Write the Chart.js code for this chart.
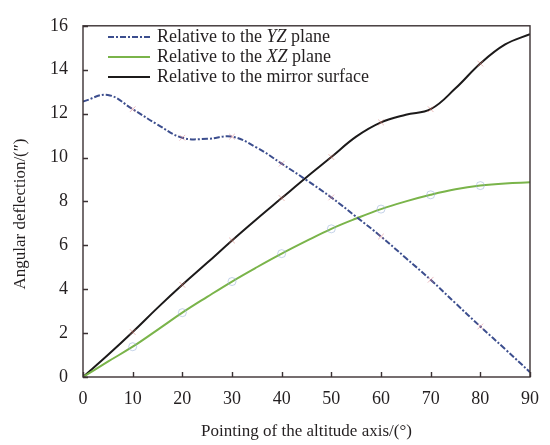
<!DOCTYPE html>
<html>
<head>
<meta charset="utf-8">
<script src="https://cdn.jsdelivr.net/npm/chart.js@4.4.1/dist/chart.umd.min.js"></script>
<style>
  html, body { margin: 0; padding: 0; background: #fff; }
  #wrap { width: 550px; height: 445px; position: relative; }
</style>
</head>
<body>
<div id="wrap"><canvas id="myChart"></canvas></div>
<script>
// values
const angles = [0, 5, 10, 15, 20, 25, 30, 35, 40, 45, 50, 55, 60, 65, 70, 75, 80, 85, 90]
const yzPlane = [12.55, 12.85, 12.2, 11.5, 10.9, 10.85, 10.95, 10.45, 9.72, 8.97, 8.18, 7.3, 6.4, 5.42, 4.43, 3.36, 2.3, 1.27, 0.22]
const xzPlane = [0, 0.7, 1.38, 2.15, 2.93, 3.65, 4.35, 5.0, 5.62, 6.2, 6.75, 7.22, 7.65, 8.0, 8.3, 8.55, 8.72, 8.82, 8.87]
const mirrorSurface = [0, 1.0, 2.05, 3.15, 4.2, 5.2, 6.22, 7.2, 8.15, 9.1, 10.02, 10.95, 11.6, 11.95, 12.2, 13.15, 14.28, 15.15, 15.62]
const xTicks = [0, 10, 20, 30, 40, 50, 60, 70, 80, 90]
const yTicks = [0, 2, 4, 6, 8, 10, 12, 14, 16]

const seriesNames = [
  [['Relative to the ', false], ['YZ', true], [' plane', false]],
  [['Relative to the ', false], ['XZ', true], [' plane', false]],
  [['Relative to the mirror surface', false]]
]

const serif = '"Liberation Serif", "Times New Roman", serif'
const ink = '#231f20'

function pts(arr) {
  return angles.map((a, i) => ({x: a, y: arr[i]}))
}

function markSize(ctx) {
  let a = angles[ctx.dataIndex]
  return (a % 10 === 0 && a > 0 && a < 90) ? 4 : 0
}

const frameTicks = {
  id: 'frameTicks',
  afterDatasetsDraw(chart) {
    let c = chart.ctx
    let area = chart.chartArea
    let xs = chart.scales.x
    let ys = chart.scales.y
    c.save()
    c.strokeStyle = '#3b3133'
    c.lineWidth = 1.4
    c.strokeRect(area.left, area.top, area.right - area.left, area.bottom - area.top)
    c.beginPath()
    xTicks.forEach(v => {
      let px = Math.round(xs.getPixelForValue(v)) + 0.5
      c.moveTo(px, area.bottom)
      c.lineTo(px, area.bottom - 5)
    })
    yTicks.forEach(v => {
      let py = Math.round(ys.getPixelForValue(v)) + 0.5
      c.moveTo(area.left, py)
      c.lineTo(area.left + 5, py)
    })
    c.stroke()
    c.restore()
  },
  afterDraw(chart) {
    let c = chart.ctx
    let area = chart.chartArea
    c.save()
    c.fillStyle = ink
    c.font = '17px ' + serif
    c.textAlign = 'center'
    c.textBaseline = 'middle'
    c.fillText('Pointing of the altitude axis/(°)', (area.left + area.right) / 2, 432)
    c.translate(21, 214)
    c.rotate(-Math.PI / 2)
    c.fillText('Angular deflection/(″)', 0, 0)
    c.restore()

    // legend, drawn by hand for the italic plane names
    let ds = chart.data.datasets
    c.save()
    c.textBaseline = 'middle'
    c.textAlign = 'left'
    for (let i = 0; i < 3; i++) {
      let y = 37 + i * 20
      c.beginPath()
      c.strokeStyle = ds[i].borderColor
      c.lineWidth = ds[i].borderWidth
      c.setLineDash(ds[i].borderDash || [])
      c.moveTo(108, y)
      c.lineTo(150, y)
      c.stroke()
      c.setLineDash([])
      let x = 157
      c.fillStyle = ink
      seriesNames[i].forEach(part => {
        c.font = (part[1] ? 'italic ' : '') + '18px ' + serif
        c.fillText(part[0], x, y)
        x += c.measureText(part[0]).width
      })
    }
    c.restore()
  }
}

let ctx = document.querySelector('#myChart').getContext('2d')
let myChart = new Chart(ctx, {
  type: 'line',
  data: {
    datasets: [{
      label: 'YZ',
      data: pts(yzPlane),
      borderColor: '#3c4e8e',
      borderWidth: 2,
      borderDash: [6, 2, 2, 2],
      pointStyle: 'crossRot',
      pointRadius: markSize,
      pointBorderColor: 'rgba(215,120,130,0.5)',
      pointBorderWidth: 1,
      tension: 0.4
    }, {
      label: 'XZ',
      data: pts(xzPlane),
      borderColor: '#7ab44a',
      borderWidth: 2,
      pointStyle: 'circle',
      pointRadius: markSize,
      pointBackgroundColor: 'rgba(0,0,0,0)',
      pointBorderColor: 'rgba(150,175,215,0.55)',
      pointBorderWidth: 1,
      tension: 0.4
    }, {
      label: 'Mirror',
      data: pts(mirrorSurface),
      borderColor: '#1c1a1a',
      borderWidth: 2,
      pointStyle: 'crossRot',
      pointRadius: markSize,
      pointBorderColor: 'rgba(215,120,110,0.5)',
      pointBorderWidth: 1,
      tension: 0.4
    }]
  },
  options: {
    responsive: true,
    maintainAspectRatio: false,
    animation: false,
    layout: { padding: { top: 20, right: 13, left: 0, bottom: 0 } },
    plugins: { legend: { display: false }, tooltip: { enabled: false } },
    scales: {
      x: {
        type: 'linear', min: 0, max: 90,
        afterFit(scale) { scale.height = 68 },
        afterBuildTicks(scale) { scale.ticks = xTicks.map(v => ({value: v})) },
        grid: { display: false, drawTicks: false },
        border: { display: false },
        ticks: { padding: 11, color: ink, font: { family: serif, size: 18 }, maxRotation: 0 }
      },
      y: {
        min: 0, max: 16,
        afterFit(scale) { scale.width = 83 },
        afterBuildTicks(scale) { scale.ticks = yTicks.map(v => ({value: v})) },
        grid: { display: false, drawTicks: false },
        border: { display: false },
        ticks: { padding: 15, color: ink, font: { family: serif, size: 18 } }
      }
    }
  },
  plugins: [frameTicks]
})
</script>
</body>
</html>
